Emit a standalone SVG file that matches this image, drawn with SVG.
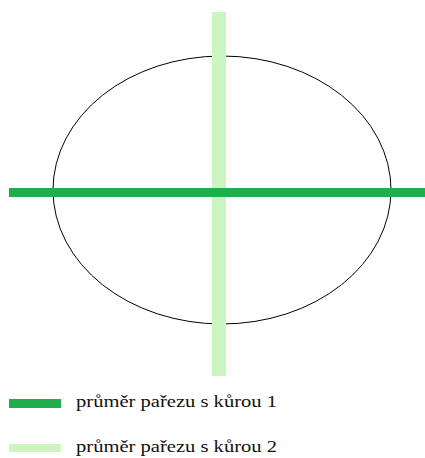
<svg xmlns="http://www.w3.org/2000/svg" width="425" height="458" viewBox="0 0 425 458">
<style>
.lbl{font-family:"Liberation Serif","Times New Roman",serif;font-size:16.5px;fill:#111}
.d1{fill:#22ad4c}
.d2{fill:#ccf5c2}
</style>
<rect width="425" height="458" fill="#fff"/>
<g id="trunk">
<ellipse cx="222" cy="190" rx="169" ry="134" fill="none" stroke="#000" stroke-width="1"/>
</g>
<g id="diam2"><rect class="d2" x="212" y="12" width="14" height="364"/></g>
<g id="diam1"><rect class="d1" x="9" y="188" width="416" height="9"/></g>
<g id="legend">
<rect class="d1" x="9" y="399" width="52" height="9"/>
<text class="lbl" x="76" y="407" textLength="201" lengthAdjust="spacingAndGlyphs">průměr pařezu s kůrou 1</text>
<rect class="d2" x="9" y="444" width="52" height="8"/>
<text class="lbl" x="76" y="452" textLength="201" lengthAdjust="spacingAndGlyphs">průměr pařezu s kůrou 2</text>
</g>
</svg>
